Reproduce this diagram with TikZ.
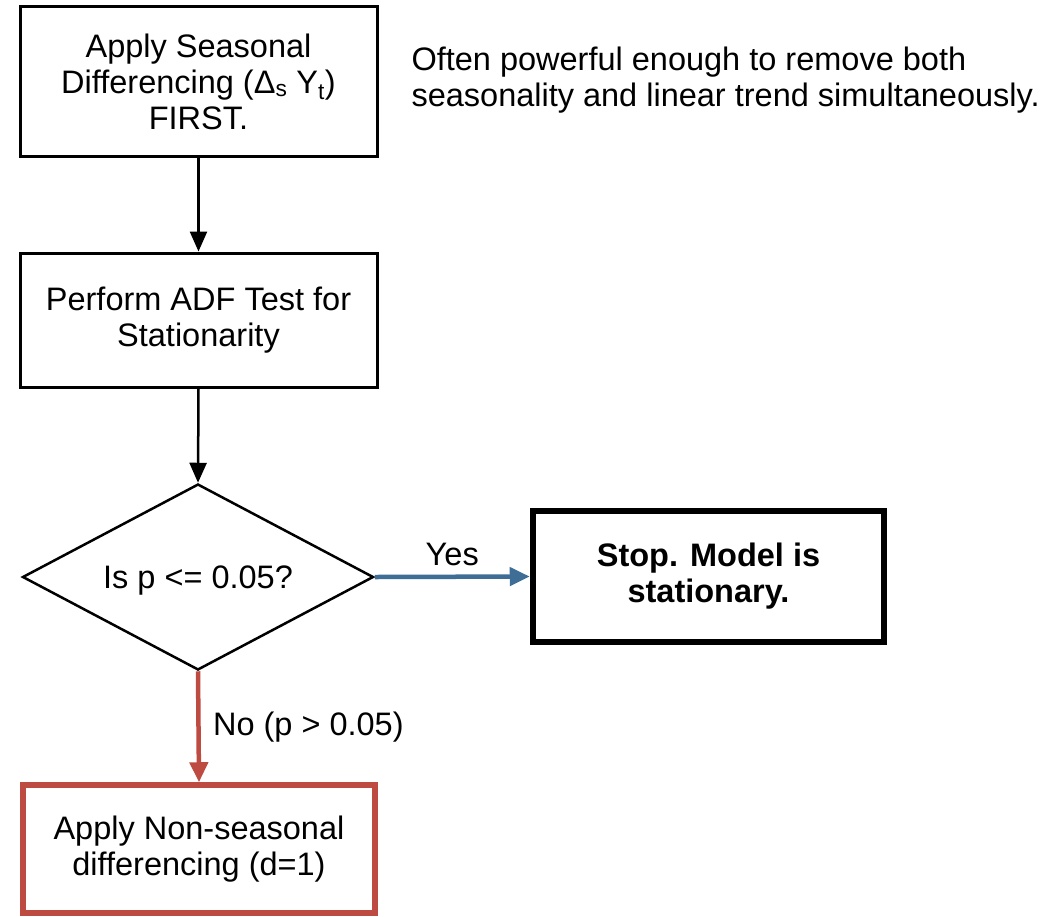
\documentclass[tikz,border=0pt]{standalone}
\usepackage{fontspec}
\setmainfont{Liberation Sans}
\usetikzlibrary{shapes.geometric,arrows.meta}
\definecolor{yesblue}{HTML}{3E6E96}
\definecolor{nored}{HTML}{BE4B41}
\begin{document}
\begin{tikzpicture}[x=1pt,y=-1pt,
  every node/.style={font=\fontsize{32.5}{36}\selectfont, align=center},
  procbox/.style={draw=black, line width=3pt, minimum width=357pt, inner sep=0pt},
  decision/.style={draw=black, line width=2.5pt, diamond, minimum width=351pt, minimum height=186pt, inner sep=0pt},
  flow/.style={line width=2.5pt, -{Triangle[length=20pt,width=17pt]}},
  yesflow/.style={flow, draw=yesblue, line width=4.5pt, -{Triangle[length=20pt,width=18pt]}},
  noflow/.style={flow, draw=nored, line width=4.5pt, -{Triangle[length=20pt,width=18pt]}},
  lbl/.style={font=\fontsize{32.5}{36}\selectfont}]
  \useasboundingbox (0,0) rectangle (1051,916);
  \fill[white] (0,0) rectangle (1051,916);

  \node[procbox, minimum height=150pt] (seas) at (198.5,81.5)
    {Apply Seasonal\\Differencing (Δ\textsubscript{s} Y\textsubscript{t})\\FIRST.};
  \node[procbox, minimum height=134pt] (adf) at (198.5,320)
    {Perform ADF Test for\\Stationarity};
  % the label is set in a zero-size box, centred on the middle of the capitals,
  % so the diamond keeps its fixed size
  \node[decision] (test) at (198,577)
    {\makebox[0pt]{\raisebox{-0.36em}[0pt][0pt]{Is p <= 0.05?}}};
  \node[draw=black, line width=6.5pt, minimum width=351pt, minimum height=131pt, inner sep=0pt,
        font=\bfseries\fontsize{32.5}{36}\selectfont] (stop) at (708.5,576.5)
    {Stop. Model is\\stationary.};
  \node[draw=nored, line width=5.5pt, minimum width=352pt, minimum height=128pt, inner sep=0pt] (nonseas) at (199,849)
    {Apply Non-seasonal\\differencing (d=1)};

  \node[anchor=west, align=left] (note) at (408,80)
    {Often powerful enough to remove both\\seasonality and linear trend simultaneously.};

  \draw[flow] (seas.south) -- (adf.north);
  \draw[flow] (adf.south) -- (test.north);
  \draw[yesflow] (test.east) -- node[above=5pt, lbl] {Yes} (stop.west);
  \draw[noflow] (test.south) -- node[right=9pt, lbl] {No (p > 0.05)} (nonseas.north);
\end{tikzpicture}
\end{document}
